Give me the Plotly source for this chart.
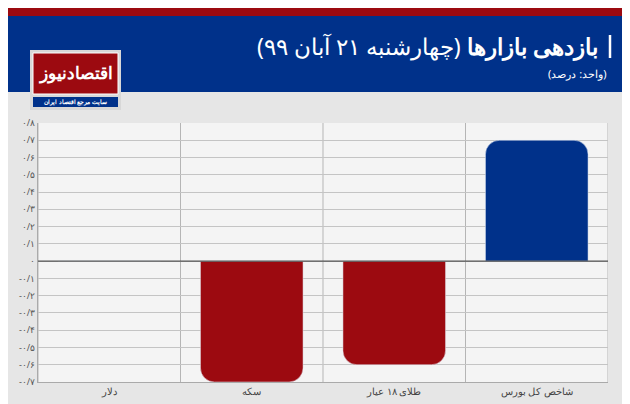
import plotly.graph_objects as go

categories = ["دلار", "سکه", "طلای ۱۸ عیار", "شاخص کل بورس"]
values = [0, -0.7, -0.6, 0.7]
colors = ["#9c0a10", "#9c0a10", "#9c0a10", "#00318a"]
tick_vals = [0.8, 0.7, 0.6, 0.5, 0.4, 0.3, 0.2, 0.1, 0, -0.1, -0.2, -0.3, -0.4, -0.5, -0.6, -0.7]
tick_text = ["۰/۸", "۰/۷", "۰/۶", "۰/۵", "۰/۴", "۰/۳", "۰/۲", "۰/۱", "۰",
             "-۰/۱", "-۰/۲", "-۰/۳", "-۰/۴", "-۰/۵", "-۰/۶", "-۰/۷"]
tick_text = ["\u200e" + t for t in tick_text]

fig = go.Figure()
fig.add_trace(go.Bar(x=categories, y=values, marker=dict(color=colors, cornerradius=14),
                     width=0.72, showlegend=False))

# convert pixel positions to paper coords: plot spans y 115..374, x 30..600
def py(p):
    return (374 - p) / 259
def px(p):
    return (p - 30) / 570

shapes = [
    dict(type="rect", xref="paper", yref="paper", x0=px(0), x1=px(630), y0=py(84), y1=py(0),
         fillcolor="#00318a", line_width=0, layer="below"),
    dict(type="rect", xref="paper", yref="paper", x0=px(0), x1=px(630), y0=py(8), y1=py(0),
         fillcolor="#9c0a10", line_width=0),
    dict(type="rect", xref="paper", yref="paper", x0=px(0), x1=px(630), y0=py(404), y1=py(398),
         fillcolor="#9c0a10", line_width=0),
    # logo
    dict(type="rect", xref="paper", yref="paper", x0=px(22), x1=px(113), y0=py(102), y1=py(42),
         fillcolor="#d8d8d8", line_width=0),
    dict(type="rect", xref="paper", yref="paper", x0=px(25), x1=px(110), y0=py(86), y1=py(45),
         fillcolor="#9c0a10", line=dict(color="#ffffff", width=1)),
    dict(type="rect", xref="paper", yref="paper", x0=px(25), x1=px(110), y0=py(99), y1=py(89),
         fillcolor="#00318a", line_width=0),
    # title bar
    dict(type="line", xref="paper", yref="paper", x0=px(602), x1=px(602), y0=py(50), y1=py(27),
         line=dict(color="white", width=2.5)),
    # zero line
    dict(type="line", xref="paper", yref="y", x0=0, x1=1, y0=0, y1=0, line=dict(color="#555", width=1.2)),
]
for xv in [-0.5, 0.5, 1.5, 2.5, 3.5]:
    shapes.append(dict(type="line", xref="x", yref="paper", x0=xv, x1=xv, y0=0, y1=1,
                       line=dict(color="#b5b5b5", width=1), layer="below"))

annotations = [
    dict(text="<b>بازدهی بازارها</b> (چهارشنبه ۲۱ آبان ۹۹)", xref="paper", yref="paper",
         x=px(592), y=py(38), xanchor="right", yanchor="middle", showarrow=False,
         font=dict(size=23, color="white", family="Noto Sans")),
    dict(text="(واحد: درصد)", xref="paper", yref="paper", x=px(600), y=py(66),
         xanchor="right", yanchor="middle", showarrow=False,
         font=dict(size=11, color="white", family="Noto Sans")),
    dict(text="<b>اقتصادنیوز</b>", xref="paper", yref="paper", x=px(67.5), y=py(65),
         xanchor="center", yanchor="middle", showarrow=False,
         font=dict(size=17, color="white", family="Noto Sans")),
    dict(text="<b>سایت مرجع اقتصاد ایران</b>", xref="paper", yref="paper", x=px(67.5), y=py(94),
         xanchor="center", yanchor="middle", showarrow=False,
         font=dict(size=6, color="white", family="Noto Sans")),
]

fig.update_layout(
    width=630, height=404,
    margin=dict(l=30, r=30, t=115, b=30),
    paper_bgcolor="#e6e6e6", plot_bgcolor="#f4f4f4",
    shapes=shapes, annotations=annotations,
    xaxis=dict(range=[-0.5, 3.5], showgrid=False, tickfont=dict(size=10, color="#444", family="Noto Sans"),
               ticks="", showline=True, linecolor="#aaa"),
    yaxis=dict(range=[-0.7, 0.8], tickvals=tick_vals, ticktext=tick_text, showgrid=True,
               gridcolor="#c4c4c4", zeroline=False, tickfont=dict(size=9, color="#555", family="Noto Sans"),
               ticks="", showline=True, linecolor="#aaa"),
)

fig.write_html("out.html")
